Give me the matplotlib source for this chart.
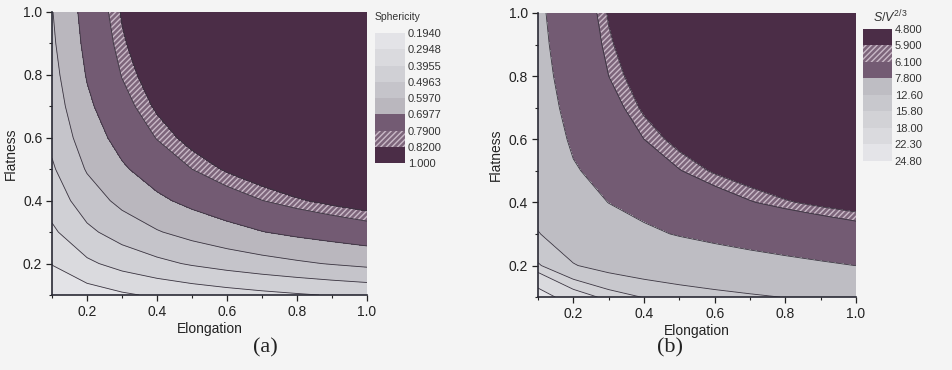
import numpy as np
import matplotlib
matplotlib.use("Agg")
import matplotlib.pyplot as plt
from matplotlib.ticker import MultipleLocator

plt.rcParams['font.family'] = ['Liberation Sans', 'DejaVu Sans']
plt.rcParams['mathtext.fontset'] = 'custom'
plt.rcParams['mathtext.it'] = 'Liberation Sans:italic'
plt.rcParams['mathtext.rm'] = 'Liberation Sans'
HATCH_COL = '#c9b9c7'
plt.rcParams['hatch.color'] = HATCH_COL
plt.rcParams['hatch.linewidth'] = 1.0

# grid: elongation (columns) x flatness (rows)
elongation = [0.1, 0.2, 0.3, 0.4, 0.5, 0.6, 0.7, 0.8, 0.9, 1.0]
flatness = [0.1, 0.2, 0.3, 0.4, 0.5, 0.6, 0.7, 0.8, 0.9, 1.0]

sphericity = [
    [0.195, 0.246, 0.281, 0.309, 0.332, 0.352, 0.370, 0.386, 0.401, 0.414],
    [0.300, 0.377, 0.431, 0.472, 0.507, 0.536, 0.561, 0.583, 0.603, 0.621],
    [0.378, 0.475, 0.540, 0.590, 0.631, 0.665, 0.695, 0.719, 0.739, 0.758],
    [0.438, 0.548, 0.622, 0.679, 0.723, 0.759, 0.789, 0.814, 0.834, 0.850],
    [0.484, 0.605, 0.685, 0.745, 0.790, 0.827, 0.856, 0.879, 0.897, 0.911],
    [0.519, 0.648, 0.732, 0.793, 0.840, 0.876, 0.903, 0.924, 0.940, 0.951],
    [0.546, 0.680, 0.767, 0.829, 0.875, 0.910, 0.936, 0.955, 0.968, 0.976],
    [0.566, 0.704, 0.793, 0.855, 0.901, 0.934, 0.957, 0.974, 0.985, 0.991],
    [0.582, 0.722, 0.812, 0.874, 0.918, 0.949, 0.971, 0.986, 0.994, 0.998],
    [0.593, 0.735, 0.825, 0.886, 0.929, 0.959, 0.979, 0.992, 0.998, 1.000],
]

sv_ratio = [
    [24.80, 19.70, 17.23, 15.67, 14.57, 13.73, 13.07, 12.52, 12.07, 11.68],
    [16.11, 12.81, 11.23, 10.24, 9.54, 9.02, 8.62, 8.29, 8.02, 7.79],
    [12.79, 10.19, 8.95, 8.19, 7.66, 7.27, 6.96, 6.73, 6.54, 6.38],
    [11.05, 8.82, 7.77, 7.12, 6.69, 6.37, 6.13, 5.94, 5.80, 5.69],
    [10.00, 8.00, 7.06, 6.49, 6.12, 5.85, 5.65, 5.50, 5.39, 5.31],
    [9.32, 7.47, 6.61, 6.10, 5.76, 5.52, 5.35, 5.23, 5.14, 5.08],
    [8.86, 7.11, 6.31, 5.83, 5.52, 5.31, 5.17, 5.07, 5.00, 4.95],
    [8.54, 6.86, 6.10, 5.65, 5.37, 5.18, 5.05, 4.97, 4.91, 4.88],
    [8.32, 6.69, 5.96, 5.54, 5.27, 5.09, 4.98, 4.91, 4.86, 4.85],
    [8.16, 6.58, 5.86, 5.46, 5.20, 5.04, 4.94, 4.88, 4.85, 4.84],
]

levels_a = [0.1940, 0.2948, 0.3955, 0.4963, 0.5970, 0.6977, 0.7900, 0.8200, 1.000]
labels_a = ['0.1940', '0.2948', '0.3955', '0.4963', '0.5970', '0.6977', '0.7900', '0.8200', '1.000']
levels_b = [4.800, 5.900, 6.100, 7.800, 12.60, 15.80, 18.00, 22.30, 24.80]
labels_b = ['4.800', '5.900', '6.100', '7.800', '12.60', '15.80', '18.00', '22.30', '24.80']

colors_a = ['#e3e3e7', '#dadade', '#d0d0d5', '#c5c4ca', '#bab7be', '#735b73', '#7d657b', '#4b2d47']
hatches_a = [None, None, None, None, None, None, '//////', None]
colors_b = ['#4b2d47', '#7d657b', '#735b73', '#bebdc3', '#c8c8cd', '#d2d2d6', '#dadade', '#e4e4e8']
hatches_b = [None, '//////', None, None, None, None, None, None]

bg = '#f4f4f4'
fig = plt.figure(figsize=(9.53, 3.70), dpi=100, facecolor=bg)


def panel(rect, crect, z, levels, labels, colors, hatches, title, tag, tagx):
    ax = fig.add_axes(rect)
    ax.set_facecolor(bg)
    cs = ax.contourf(elongation, flatness, z, levels=levels, colors=colors, hatches=hatches)
    ax.contour(elongation, flatness, z, levels=levels[1:-1], colors='#3a3440', linewidths=0.6)
    ax.set_xlim(0.1, 1.0)
    ax.set_ylim(0.1, 1.0)
    ax.xaxis.set_minor_locator(MultipleLocator(0.1))
    ax.yaxis.set_minor_locator(MultipleLocator(0.1))
    ax.set_xticks([0.2, 0.4, 0.6, 0.8, 1.0])
    ax.set_yticks([0.2, 0.4, 0.6, 0.8, 1.0])
    ax.set_xticklabels(['0.2', '0.4', '0.6', '0.8', '1.0'])
    ax.set_yticklabels(['0.2', '0.4', '0.6', '0.8', '1.0'])
    ax.tick_params(which='major', length=4, width=0.9, labelsize=10, pad=3, colors='#222')
    ax.tick_params(which='minor', length=2.5, width=0.8, colors='#222')
    for s in ['top', 'right']:
        ax.spines[s].set_visible(False)
    for s in ['left', 'bottom']:
        ax.spines[s].set_linewidth(1.2)
        ax.spines[s].set_color('#2a2a35')
    ax.set_xlabel('Elongation', fontsize=10, labelpad=2, color='#222')
    ax.set_ylabel('Flatness', fontsize=10, labelpad=4, color='#222')

    cax = fig.add_axes(crect)
    cb = fig.colorbar(cs, cax=cax, ticks=levels)
    cb.set_ticklabels(labels)
    cb.outline.set_visible(False)
    for p in cb.solids_patches:
        p.set_edgecolor(HATCH_COL)
        p.set_linewidth(0)
    cax.invert_yaxis()
    cax.tick_params(length=0, labelsize=8, pad=2, colors='#333')
    fig.text(crect[0] + title[1], crect[1] + crect[3] + title[2], title[0],
             fontsize=title[3], ha='left', va='bottom', color='#333')
    fig.text(tagx, 0.06, tag, family='Liberation Serif', fontsize=16, ha='center', va='center', color='#222')


panel([0.0546, 0.2027, 0.3305, 0.765], [0.3935, 0.5595, 0.0315, 0.351],
      sphericity, levels_a, labels_a, colors_a, hatches_a,
      ('Sphericity', 0.0, 0.03, 7.5), '(a)', 0.278)
panel([0.5645, 0.197, 0.3337, 0.768], [0.9056, 0.565, 0.0304, 0.357],
      sv_ratio, levels_b, labels_b, colors_b, hatches_b,
      (r'$S/V^{2/3}$', 0.01, 0.01, 9), '(b)', 0.703)

fig.savefig('out.png', dpi=100, facecolor=bg)
